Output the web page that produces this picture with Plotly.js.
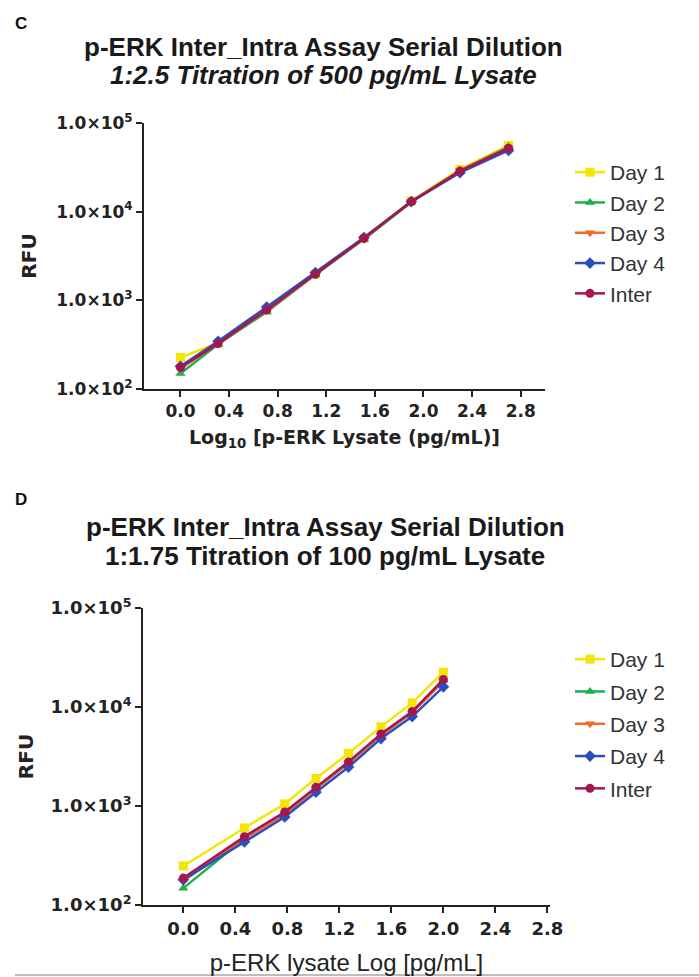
<!DOCTYPE html>
<html>
<head>
<meta charset="utf-8">
<script src="https://cdn.plot.ly/plotly-3.0.1.min.js"></script>
<style>html,body{margin:0;padding:0;background:#fff;}#chart{width:699px;height:977px;}</style>
</head>
<body>
<div id="chart"></div>
<script>
// ---------- data ----------
const seriesNames = ['Day 1', 'Day 2', 'Day 3', 'Day 4', 'Inter'];

// Panel C: 1:2.5 titration of 500 pg/mL lysate
const xC = [0, 0.31, 0.71, 1.11, 1.51, 1.90, 2.30, 2.70];
const cDay1  = [227, 330, 780, 1980, 5000, 13200, 30000, 56000];
const cDay2  = [150, 320, 740, 1950, 4900, 12800, 29000, 54000];
const cDay3  = [170, 325, 770, 1950, 5000, 13000, 29000, 53000];
const cDay4  = [180, 345, 840, 2050, 5100, 13000, 27500, 49000];
const cInter = [175, 325, 780, 1970, 5000, 13000, 28700, 52000];

// Panel D: 1:1.75 titration of 100 pg/mL lysate
const xD = [0, 0.47, 0.78, 1.02, 1.27, 1.52, 1.76, 2.00];
const dDay1  = [248, 600, 1050, 1900, 3400, 6300, 11000, 22500];
const dDay2  = [148, 470, 850, 1500, 2700, 5200, 8800, 18500];
const dDay3  = [175, 470, 820, 1500, 2700, 5200, 8800, 18000];
const dDay4  = [180, 435, 775, 1380, 2470, 4800, 8000, 16000];
const dInter = [187, 490, 870, 1550, 2790, 5350, 9000, 19000];

const xTickVals = [0, 0.4, 0.8, 1.2, 1.6, 2.0, 2.4, 2.8];
const xTickText = ['0.0', '0.4', '0.8', '1.2', '1.6', '2.0', '2.4', '2.8'];
const yTickVals = [100, 1000, 10000, 100000];
const yTickText = ['1.0×10<sup>2</sup>', '1.0×10<sup>3</sup>', '1.0×10<sup>4</sup>', '1.0×10<sup>5</sup>'];

// ---------- styles ----------
const colors  = ['#F3E600', '#1FAF4B', '#F26B2A', '#2B4EBC', '#A3164F'];
const symbols = ['square', 'triangle-up', 'triangle-down', 'diamond', 'circle'];
const W = 699, H = 977;
const px = v => v / W;
const py = v => 1 - v / H;

const cSeries = [cDay1, cDay2, cDay3, cDay4, cInter];
const dSeries = [dDay1, dDay2, dDay3, dDay4, dInter];

const traces = [];
function addPanel(xs, series, xa, ya, legendName, grpPrefix) {
  series.forEach((ys, i) => {
    traces.push({
      type: 'scatter', mode: 'lines+markers',
      x: xs, y: ys, name: seriesNames[i],
      xaxis: xa, yaxis: ya,
      legend: legendName,
      legendgroup: grpPrefix + i,
      line: {color: colors[i], width: 2.5},
      marker: {color: colors[i], symbol: symbols[i], size: 9, line: {width: 0}},
      hoverinfo: 'x+y+name'
    });
  });
}
addPanel(xC, cSeries, 'x', 'y', 'legend', 'c');
addPanel(xD, dSeries, 'x2', 'y2', 'legend2', 'd');

const boldDV = (size) => ({family: 'DejaVu Sans, sans-serif', size: size, color: '#222', weight: 'bold'});
function xAxis(domain, range, anchor, title, tsize) {
  return {
    domain: domain, range: range, anchor: anchor,
    tickmode: 'array', tickvals: xTickVals, ticktext: xTickText,
    ticks: 'outside', ticklen: 6, tickwidth: 2, tickcolor: '#222',
    showline: true, linewidth: 2, linecolor: '#222',
    showgrid: false, zeroline: false, tickfont: boldDV(tsize),
    title: title, fixedrange: true
  };
}
function yAxis(domain, anchor, tsize, standoff) {
  return {
    domain: domain, type: 'log', range: [2, 5], anchor: anchor,
    tickmode: 'array', tickvals: yTickVals, ticktext: yTickText,
    ticks: 'outside', ticklen: 6, tickwidth: 2, tickcolor: '#222',
    showline: true, linewidth: 2, linecolor: '#222',
    showgrid: false, zeroline: false, tickfont: boldDV(tsize),
    title: {text: 'RFU', font: boldDV(20), standoff: standoff},
    fixedrange: true
  };
}

const titleFont = {family: 'Liberation Sans, Arial, sans-serif', size: 26, color: '#1a1a1a', weight: 'bold'};
const legendBase = {
  font: {family: 'Liberation Sans, Arial, sans-serif', size: 21, color: '#333'},
  bgcolor: 'rgba(0,0,0,0)', borderwidth: 0,
  traceorder: 'grouped', xanchor: 'left', yanchor: 'top',
  itemwidth: 30
};
const ann = (text, x, y, font) => ({text: text, x: px(x), y: py(y), xref: 'paper', yref: 'paper',
  showarrow: false, xanchor: 'center', yanchor: 'middle', font: font});
const panelFont = {family: 'Liberation Sans, Arial, sans-serif', size: 17, color: '#111', weight: 'bold'};

const layout = {
  width: W, height: H,
  margin: {l: 0, r: 0, t: 0, b: 0},
  paper_bgcolor: '#fff', plot_bgcolor: '#fff',
  showlegend: true,
  xaxis: xAxis([px(144), px(545)], [-0.3, 3.0], 'y',
    {text: 'Log<sub>10</sub> [p-ERK Lysate (pg/mL)]', font: boldDV(19), standoff: 10}, 17),
  yaxis: yAxis([py(389), py(123)], 'x', 17, 14),
  xaxis2: xAxis([px(143), px(550)], [-0.31, 2.82], 'y2',
    {text: 'p-ERK lysate Log [pg/mL]', font: {family: 'Liberation Sans, Arial, sans-serif', size: 24, color: '#222'}, standoff: 17}, 18),
  yaxis2: yAxis([py(905), py(608)], 'x2', 18, 12),
  legend: Object.assign({}, legendBase, {x: px(570), y: py(152), tracegroupgap: 0}),
  legend2: Object.assign({}, legendBase, {x: px(570), y: py(639), tracegroupgap: 2}),
  annotations: [
    ann('C', 21, 24, panelFont),
    ann('p-ERK Inter_Intra Assay Serial Dilution', 323, 47, titleFont),
    ann('<i>1:2.5 Titration of 500 pg/mL Lysate</i>', 323, 75, titleFont),
    ann('D', 21, 499, panelFont),
    ann('p-ERK Inter_Intra Assay Serial Dilution', 325, 527, titleFont),
    ann('1:1.75 Titration of 100 pg/mL Lysate', 325, 556, titleFont)
  ],
  shapes: [
    {type: 'line', xref: 'paper', yref: 'paper', x0: px(15), x1: 1, y0: py(975), y1: py(975),
     line: {color: '#bdbdbd', width: 2}}
  ]
};

Plotly.newPlot('chart', traces, layout, {staticPlot: true, displayModeBar: false});
</script>
</body>
</html>
